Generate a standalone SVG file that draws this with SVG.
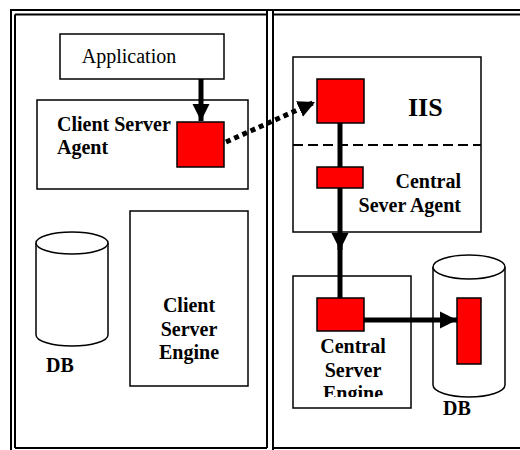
<svg xmlns="http://www.w3.org/2000/svg" width="520" height="450" viewBox="0 0 520 450">
<style>
.box{fill:#fff;stroke:#000;stroke-width:1.5}
.red{fill:#f00;stroke:#000;stroke-width:1.5}
.frame{fill:none;stroke:#000;stroke-width:2}
.t{font-family:"Liberation Serif","Times New Roman",Tinos,"Noto Serif","DejaVu Serif",serif;font-size:20px;fill:#000}
.b{font-weight:bold}
.flow{stroke:#000;stroke-width:5;fill:none}
</style>
<defs>
<marker id="ah" markerWidth="4" markerHeight="4" refX="3.4" refY="2" orient="auto" markerUnits="strokeWidth" viewBox="0 0 4 4">
<path d="M0,0.3 L3.4,2 L0,3.7 z" fill="#000"/>
</marker>
<clipPath id="cseClip"><rect x="293" y="276" width="118" height="121"/></clipPath>
</defs>
<rect width="520" height="450" fill="#fff"/>
<g id="frames">
<line class="frame" x1="10" y1="10" x2="520" y2="10"/>
<line class="frame" x1="15" y1="14.5" x2="266" y2="14.5"/>
<line class="frame" x1="274" y1="14.5" x2="520" y2="14.5"/>
<line class="frame" x1="11" y1="10" x2="11" y2="450"/>
<line class="frame" x1="15" y1="14.5" x2="15" y2="448"/>
<line class="frame" x1="267" y1="10" x2="267" y2="448"/>
<line class="frame" x1="273" y1="10" x2="273" y2="450"/>
<line class="frame" x1="15" y1="448" x2="267" y2="448"/>
<line class="frame" x1="273" y1="448" x2="520" y2="448"/>
</g>
<g id="application">
<rect class="box" x="60" y="34" width="164" height="45"/>
<text class="t" x="129" y="63" text-anchor="middle">Application</text>
</g>
<g id="client-server-agent">
<rect class="box" x="37" y="100" width="211" height="89"/>
<text class="t b" x="57" y="131">Client Server</text>
<text class="t b" x="57" y="154">Agent</text>
<rect class="red" x="177" y="122" width="47" height="45"/>
</g>
<g id="db-left">
<path class="box" d="M36,243 V335 A36,11 0 0 0 108,335 V243"/>
<ellipse class="box" cx="72" cy="243" rx="36" ry="11"/>
<text class="t b" x="46" y="372">DB</text>
</g>
<g id="client-server-engine">
<rect class="box" x="130" y="211" width="118" height="175"/>
<text class="t b" x="189" y="312" text-anchor="middle">Client</text>
<text class="t b" x="189" y="336" text-anchor="middle">Server</text>
<text class="t b" x="189" y="359" text-anchor="middle">Engine</text>
</g>
<g id="iis-central-server-agent">
<rect class="box" x="293" y="57" width="188" height="175"/>
<line x1="293" y1="145" x2="481" y2="145" stroke="#000" stroke-width="2" stroke-dasharray="10,5"/>
<text class="t b" x="408" y="116" style="font-size:26px">IIS</text>
<text class="t b" x="461" y="188" text-anchor="end">Central</text>
<text class="t b" x="461" y="212" text-anchor="end">Sever Agent</text>
</g>
<g id="central-server-engine">
<rect class="box" x="293" y="276" width="118" height="132"/>
<g clip-path="url(#cseClip)">
<text class="t b" x="353" y="353" text-anchor="middle">Central</text>
<text class="t b" x="353" y="377" text-anchor="middle">Server</text>
<text class="t b" x="353" y="400" text-anchor="middle">Engine</text>
</g>
</g>
<g id="db-right">
<path class="box" d="M433,267 V385 A36,12 0 0 0 505,385 V267"/>
<ellipse class="box" cx="469" cy="267" rx="36" ry="12"/>
<text class="t b" x="443" y="415">DB</text>
</g>
<g id="connectors">
<line class="flow" x1="201" y1="79" x2="201" y2="121" marker-end="url(#ah)"/>
<line class="flow" x1="226" y1="142" x2="315" y2="102" stroke-dasharray="5,4" marker-end="url(#ah)"/>
<line class="flow" x1="340" y1="123" x2="340" y2="250" marker-end="url(#ah)"/>
<line class="flow" x1="340" y1="245" x2="340" y2="298"/>
<line class="flow" x1="364" y1="320" x2="457" y2="320" marker-end="url(#ah)"/>
</g>
<g id="ports">
<rect class="red" x="317" y="79" width="47" height="44"/>
<rect class="red" x="317" y="167" width="46" height="21"/>
<rect class="red" x="317" y="298" width="47" height="33"/>
<rect class="red" x="457" y="298" width="24" height="66"/>
</g>
</svg>
